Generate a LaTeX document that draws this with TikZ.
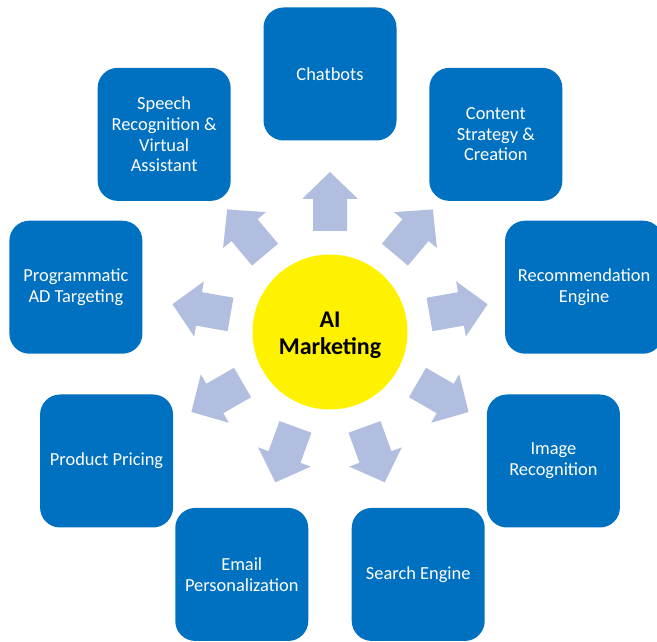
\documentclass[tikz,border=0pt]{standalone}
\usepackage{fontspec}
\setmainfont{Carlito}
\definecolor{boxblue}{RGB}{0,112,192}
\definecolor{arrowc}{RGB}{178,190,224}
\begin{document}
\begin{tikzpicture}[x=1pt,y=1pt,
  box/.style={fill=boxblue, rounded corners=20pt, minimum width=133pt, minimum height=133pt,
    inner sep=2pt, text=white, align=center, font=\fontsize{18.4}{20.7}\selectfont},
  hub/.style={circle, fill=yellow, minimum size=155pt, inner sep=0pt, align=center,
    font=\bfseries\fontsize{24}{27}\selectfont},
  blockarrow/.style={fill=arrowc}]
\useasboundingbox (0,0) rectangle (657,641);
\clip (0,0) rectangle (657,641);
\coordinate (C) at (330,309);
\node[hub] (hub) at (C) {};
\node[align=center, font=\bfseries\fontsize{24}{27}\selectfont] (hubtext) at ([yshift=-3pt]C) {AI\\Marketing};
\node[box] (chat) at ([shift={(90:258)}]C) {Chatbots};
\node[box] (content) at ([shift={(50:258)}]C) {Content\\Strategy \&\\Creation};
\node[box, minimum width=158pt] (rec) at ([shift={(10:258)}]C) {Recommendation\\Engine};
\node[box] (image) at ([shift={(-30:258)}]C) {Image\\Recognition};
\node[box] (search) at ([shift={(-70:258)}]C) {Search Engine};
\node[box] (email) at ([shift={(-110:258)}]C) {Email\\Personalization};
\node[box] (price) at ([shift={(-150:258)}]C) {Product Pricing};
\node[box] (prog) at ([shift={(170:258)}]C) {Programmatic\\AD Targeting};
\node[box] (speech) at ([shift={(130:258)}]C) {Speech\\Recognition \&\\Virtual\\Assistant};
\foreach \a in {90,50,10,-30,-70,-110,-150,170,130}{
  \begin{scope}[shift={(C)}, rotate=\a]
    \fill[blockarrow] (101,-17) -- (133,-17) -- (133,-28) -- (160,0) -- (133,28) -- (133,17) -- (101,17) -- cycle;
  \end{scope}
}
\end{tikzpicture}
\end{document}
